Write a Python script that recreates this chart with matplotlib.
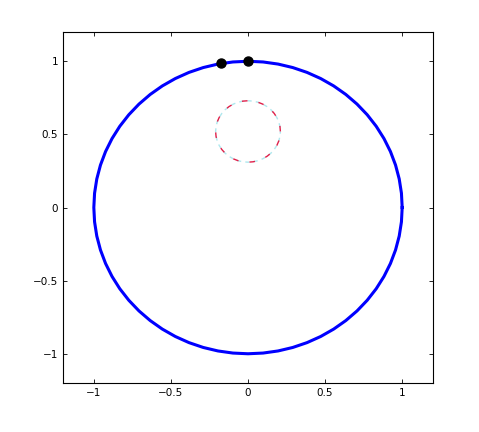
import numpy as np
import matplotlib
matplotlib.use("Agg")
import matplotlib.pyplot as plt

# big circle (unit circle, drawn as a coarse polygon)
big_center = (0.0, 0.0)
big_radius = 1.0
big_segments = 64

# small dashed circle
small_center = (0.0, 0.52)
small_radius = 0.21
small_segments = 40

# black points on the big circle, angles in degrees
dot_angles = [90.0, 100.0]

ticks = [-1, -0.5, 0, 0.5, 1]
tick_labels = ["\u22121", "\u22120.5", "0", "0.5", "1"]


def circle_xy(center, radius, n):
    t = np.linspace(0, 2 * np.pi, n + 1)
    return center[0] + radius * np.cos(t), center[1] + radius * np.sin(t)


fig = plt.figure(figsize=(4.79, 4.32), dpi=100)
ax = fig.add_axes([0.1315, 0.1134, 0.7725, 0.8125])

bx, by = circle_xy(big_center, big_radius, big_segments)
ax.plot(bx, by, color="#0000ff", lw=2.2, zorder=2)

sx, sy = circle_xy(small_center, small_radius, small_segments)
ax.plot(sx, sy, color="#aee8ee", lw=1.0, ls=(3, (3, 3)), zorder=2)
ax.plot(sx, sy, color="#e0204a", lw=1.0, ls=(0, (4, 8)), zorder=3)

ang = np.deg2rad(dot_angles)
ax.plot(big_radius * np.cos(ang), big_radius * np.sin(ang), "o",
        color="black", ms=6.5, zorder=4)

ax.set_xlim(-1.2, 1.2)
ax.set_ylim(-1.2, 1.2)
ax.set_xticks(ticks)
ax.set_xticklabels(tick_labels)
ax.set_yticks(ticks)
ax.set_yticklabels(tick_labels)
ax.tick_params(direction="in", length=3, labelsize=7.5, top=True, right=True,
               width=0.6)
for s in ax.spines.values():
    s.set_linewidth(0.8)

fig.savefig("out.png", dpi=100)
